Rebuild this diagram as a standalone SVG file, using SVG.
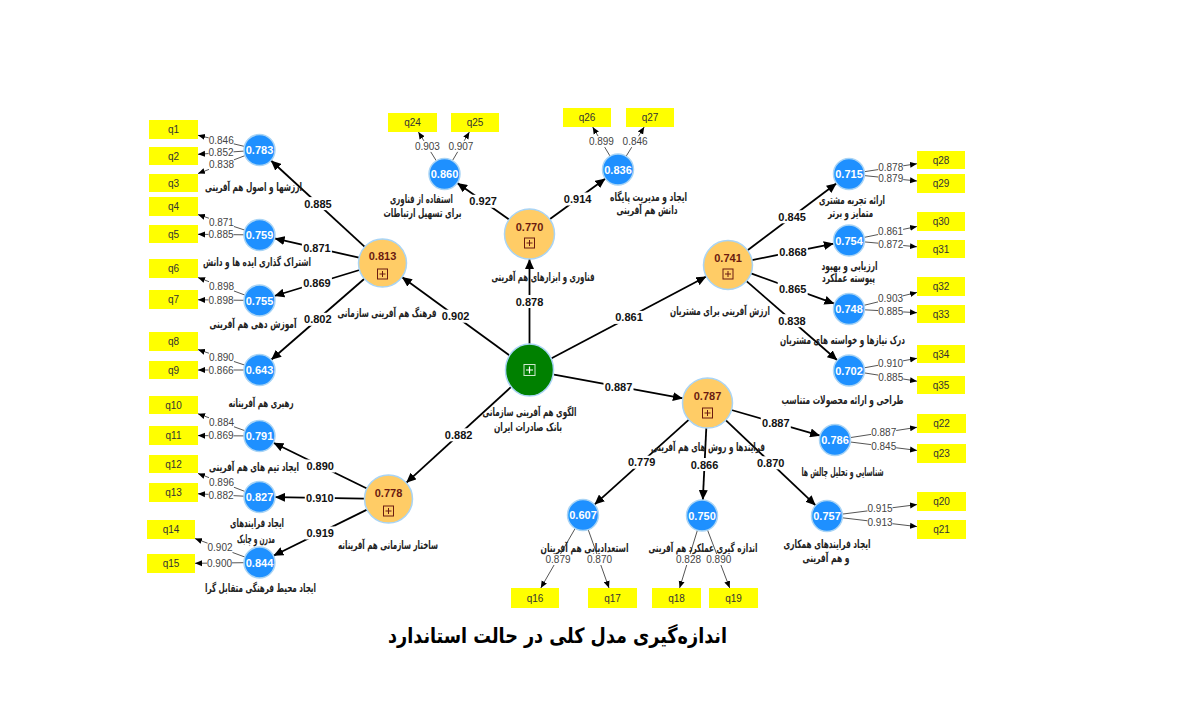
<svg xmlns="http://www.w3.org/2000/svg" width="1182" height="728" viewBox="0 0 1182 728">
<style>
.s{stroke:#000;stroke-width:1.8;fill:none;marker-end:url(#as)}
.o{stroke:#555;stroke-width:1;fill:none;marker-end:url(#ao)}
.lb{fill:#fff}
.ls{font:bold 11px 'Liberation Sans',Arial,sans-serif;fill:#111;text-anchor:middle;dominant-baseline:central}
.lo{font:10px 'Liberation Sans',Arial,sans-serif;fill:#444;text-anchor:middle;dominant-baseline:central}
.bl{fill:#1e90ff;stroke:#a9d4f5;stroke-width:1.5}
.or{fill:#ffcc66;stroke:#a9d4f5;stroke-width:1.5}
.gr{fill:#008000;stroke:#a9d4f5;stroke-width:1.5}
.bt{font:bold 11px 'Liberation Sans',Arial,sans-serif;fill:#fff;text-anchor:middle;dominant-baseline:central}
.ot{font:bold 11px 'Liberation Sans',Arial,sans-serif;fill:#6b1a10;text-anchor:middle;dominant-baseline:central}
.ic{fill:none;stroke:#6b1a10;stroke-width:1}
.q{fill:#ffff00}
.qt{font:10px 'Liberation Sans',Arial,sans-serif;fill:#333;text-anchor:middle;dominant-baseline:central}
.nm{font:bold 11.5px 'DejaVu Sans',sans-serif;fill:#222;text-anchor:middle;dominant-baseline:central;direction:rtl}
.tt{font:bold 21px 'DejaVu Sans',sans-serif;fill:#000;text-anchor:middle;dominant-baseline:central;direction:rtl}
</style>
<defs>
<marker id="as" markerUnits="userSpaceOnUse" markerWidth="11" markerHeight="9" refX="10" refY="4.5" orient="auto"><path d="M0,0L10,4.5L0,9z" fill="#000"/></marker>
<marker id="ao" markerUnits="userSpaceOnUse" markerWidth="8" markerHeight="7" refX="7" refY="3.5" orient="auto"><path d="M0,0.5L7,3.5L0,6.5z" fill="#000"/></marker>
</defs>
<rect width="1182" height="728" fill="#fff"/>

<g id="connectors">
<path class="s" d="M509.3,355.3L401.9,277.1"/>
<path class="s" d="M529.5,344L529.5,259"/>
<path class="s" d="M551.6,358.3L706.3,276.5"/>
<path class="s" d="M554.1,374.6L682.9,398.4"/>
<path class="s" d="M511.1,386.9L406.2,482.8"/>
<path class="s" d="M364.8,246.8L270.9,160.5"/>
<path class="s" d="M359.1,257.7L274.6,238.4"/>
<path class="s" d="M359.5,270L274.3,296"/>
<path class="s" d="M364.4,278.8L271.2,359.8"/>
<path class="s" d="M509.1,219.6L457.2,182.9"/>
<path class="s" d="M549.7,219.3L605.5,178.6"/>
<path class="s" d="M747.6,250.3L836.6,183.3"/>
<path class="s" d="M752,260.1L833.8,243.6"/>
<path class="s" d="M751,273.4L834.4,303.7"/>
<path class="s" d="M746.5,281.1L837.3,360.3"/>
<path class="s" d="M731.5,410L820.1,435.7"/>
<path class="s" d="M725.7,420.2L815.7,505.4"/>
<path class="s" d="M706.3,428L702.8,500"/>
<path class="s" d="M688.9,419.7L594.5,504.6"/>
<path class="s" d="M366.9,488.5L273.4,442.8"/>
<path class="s" d="M364.5,498.6L275,497.2"/>
<path class="s" d="M367,509.6L273.4,555.7"/>

<path class="o" d="M244.4,146.4L198,135.3"/>
<path class="o" d="M244,151.1L198,154.3"/>
<path class="o" d="M245,155.6L198,173.6"/>
<path class="o" d="M244.8,230.1L198,214.6"/>
<path class="o" d="M244,234.8L198,234.3"/>
<path class="o" d="M245,295.1L198,277.6"/>
<path class="o" d="M244,300.3L198,299.8"/>
<path class="o" d="M244.8,365.1L198,349.6"/>
<path class="o" d="M244,370L198,370"/>
<path class="o" d="M244.9,430.7L198,413.8"/>
<path class="o" d="M244,435.9L198,435.6"/>
<path class="o" d="M245,491.5L198,473.4"/>
<path class="o" d="M244,496.2L198,493.8"/>
<path class="o" d="M245,557.1L195,538.5"/>
<path class="o" d="M244,562.7L195,563.3"/>
<path class="o" d="M436.3,160.8L418.4,132"/>
<path class="o" d="M452.4,160.7L469.4,132"/>
<path class="o" d="M610.1,156.2L592.7,127"/>
<path class="o" d="M626.1,156.3L644.2,127"/>
<path class="o" d="M864.3,171.7L917,163.7"/>
<path class="o" d="M864.4,175.6L917,181"/>
<path class="o" d="M864.2,237.4L917,226.5"/>
<path class="o" d="M864.4,241.9L917,246.8"/>
<path class="o" d="M864.1,305.3L917,292.4"/>
<path class="o" d="M864.5,309.8L917,312.7"/>
<path class="o" d="M864.3,367.8L917,358.3"/>
<path class="o" d="M864.3,372.9L917,381.2"/>
<path class="o" d="M850.3,437.6L917,427.3"/>
<path class="o" d="M850.4,442L917,450.4"/>
<path class="o" d="M842.4,514.1L917,504.6"/>
<path class="o" d="M842.4,517.8L917,526.6"/>
<path class="o" d="M575.2,528.4L540.8,588"/>
<path class="o" d="M588.2,529.6L609,588"/>
<path class="o" d="M697.4,530.3L679.6,588"/>
<path class="o" d="M707.5,530L729.7,588"/>

<g transform="translate(455.6,316.2)"><rect class="lb" x="-15" y="-6.5" width="30" height="13"/><text class="ls">0.902</text></g>
<g transform="translate(529.5,301.5)"><rect class="lb" x="-15" y="-6.5" width="30" height="13"/><text class="ls">0.878</text></g>
<g transform="translate(629,317.4)"><rect class="lb" x="-15" y="-6.5" width="30" height="13"/><text class="ls">0.861</text></g>
<g transform="translate(618.5,386.5)"><rect class="lb" x="-15" y="-6.5" width="30" height="13"/><text class="ls">0.887</text></g>
<g transform="translate(458.6,434.8)"><rect class="lb" x="-15" y="-6.5" width="30" height="13"/><text class="ls">0.882</text></g>
<g transform="translate(317.9,203.6)"><rect class="lb" x="-15" y="-6.5" width="30" height="13"/><text class="ls">0.885</text></g>
<g transform="translate(316.9,248.1)"><rect class="lb" x="-15" y="-6.5" width="30" height="13"/><text class="ls">0.871</text></g>
<g transform="translate(316.9,283)"><rect class="lb" x="-15" y="-6.5" width="30" height="13"/><text class="ls">0.869</text></g>
<g transform="translate(317.8,319.3)"><rect class="lb" x="-15" y="-6.5" width="30" height="13"/><text class="ls">0.802</text></g>
<g transform="translate(483.1,201.3)"><rect class="lb" x="-15" y="-6.5" width="30" height="13"/><text class="ls">0.927</text></g>
<g transform="translate(577.6,199)"><rect class="lb" x="-15" y="-6.5" width="30" height="13"/><text class="ls">0.914</text></g>
<g transform="translate(792.1,216.8)"><rect class="lb" x="-15" y="-6.5" width="30" height="13"/><text class="ls">0.845</text></g>
<g transform="translate(792.9,251.9)"><rect class="lb" x="-15" y="-6.5" width="30" height="13"/><text class="ls">0.868</text></g>
<g transform="translate(792.7,288.5)"><rect class="lb" x="-15" y="-6.5" width="30" height="13"/><text class="ls">0.865</text></g>
<g transform="translate(791.9,320.7)"><rect class="lb" x="-15" y="-6.5" width="30" height="13"/><text class="ls">0.838</text></g>
<g transform="translate(775.8,422.8)"><rect class="lb" x="-15" y="-6.5" width="30" height="13"/><text class="ls">0.887</text></g>
<g transform="translate(770.7,462.8)"><rect class="lb" x="-15" y="-6.5" width="30" height="13"/><text class="ls">0.870</text></g>
<g transform="translate(704.5,464.5)"><rect class="lb" x="-15" y="-6.5" width="30" height="13"/><text class="ls">0.866</text></g>
<g transform="translate(641.7,462.2)"><rect class="lb" x="-15" y="-6.5" width="30" height="13"/><text class="ls">0.779</text></g>
<g transform="translate(320.2,466)"><rect class="lb" x="-15" y="-6.5" width="30" height="13"/><text class="ls">0.890</text></g>
<g transform="translate(319.8,497.9)"><rect class="lb" x="-15" y="-6.5" width="30" height="13"/><text class="ls">0.910</text></g>
<g transform="translate(320.2,533)"><rect class="lb" x="-15" y="-6.5" width="30" height="13"/><text class="ls">0.919</text></g>

<g transform="translate(221.2,140.9)"><rect class="lb" x="-12.5" y="-5.5" width="25" height="11"/><text class="lo">0.846</text></g>
<g transform="translate(221,152.7)"><rect class="lb" x="-12.5" y="-5.5" width="25" height="11"/><text class="lo">0.852</text></g>
<g transform="translate(221.5,164.6)"><rect class="lb" x="-12.5" y="-5.5" width="25" height="11"/><text class="lo">0.838</text></g>
<g transform="translate(221.4,222.4)"><rect class="lb" x="-12.5" y="-5.5" width="25" height="11"/><text class="lo">0.871</text></g>
<g transform="translate(221,234.6)"><rect class="lb" x="-12.5" y="-5.5" width="25" height="11"/><text class="lo">0.885</text></g>
<g transform="translate(221.5,286.4)"><rect class="lb" x="-12.5" y="-5.5" width="25" height="11"/><text class="lo">0.898</text></g>
<g transform="translate(221,300.1)"><rect class="lb" x="-12.5" y="-5.5" width="25" height="11"/><text class="lo">0.898</text></g>
<g transform="translate(221.4,357.4)"><rect class="lb" x="-12.5" y="-5.5" width="25" height="11"/><text class="lo">0.890</text></g>
<g transform="translate(221,370)"><rect class="lb" x="-12.5" y="-5.5" width="25" height="11"/><text class="lo">0.866</text></g>
<g transform="translate(221.5,422.3)"><rect class="lb" x="-12.5" y="-5.5" width="25" height="11"/><text class="lo">0.884</text></g>
<g transform="translate(221,435.8)"><rect class="lb" x="-12.5" y="-5.5" width="25" height="11"/><text class="lo">0.869</text></g>
<g transform="translate(221.5,482.4)"><rect class="lb" x="-12.5" y="-5.5" width="25" height="11"/><text class="lo">0.896</text></g>
<g transform="translate(221,495)"><rect class="lb" x="-12.5" y="-5.5" width="25" height="11"/><text class="lo">0.882</text></g>
<g transform="translate(220,547.8)"><rect class="lb" x="-12.5" y="-5.5" width="25" height="11"/><text class="lo">0.902</text></g>
<g transform="translate(219.5,563)"><rect class="lb" x="-12.5" y="-5.5" width="25" height="11"/><text class="lo">0.900</text></g>
<g transform="translate(427.4,146.4)"><rect class="lb" x="-12.5" y="-5.5" width="25" height="11"/><text class="lo">0.903</text></g>
<g transform="translate(460.9,146.3)"><rect class="lb" x="-12.5" y="-5.5" width="25" height="11"/><text class="lo">0.907</text></g>
<g transform="translate(601.4,141.6)"><rect class="lb" x="-12.5" y="-5.5" width="25" height="11"/><text class="lo">0.899</text></g>
<g transform="translate(635.1,141.7)"><rect class="lb" x="-12.5" y="-5.5" width="25" height="11"/><text class="lo">0.846</text></g>
<g transform="translate(890.7,167.7)"><rect class="lb" x="-12.5" y="-5.5" width="25" height="11"/><text class="lo">0.878</text></g>
<g transform="translate(890.7,178.3)"><rect class="lb" x="-12.5" y="-5.5" width="25" height="11"/><text class="lo">0.879</text></g>
<g transform="translate(890.6,231.9)"><rect class="lb" x="-12.5" y="-5.5" width="25" height="11"/><text class="lo">0.861</text></g>
<g transform="translate(890.7,244.4)"><rect class="lb" x="-12.5" y="-5.5" width="25" height="11"/><text class="lo">0.872</text></g>
<g transform="translate(890.5,298.8)"><rect class="lb" x="-12.5" y="-5.5" width="25" height="11"/><text class="lo">0.903</text></g>
<g transform="translate(890.7,311.3)"><rect class="lb" x="-12.5" y="-5.5" width="25" height="11"/><text class="lo">0.885</text></g>
<g transform="translate(890.6,363)"><rect class="lb" x="-12.5" y="-5.5" width="25" height="11"/><text class="lo">0.910</text></g>
<g transform="translate(890.7,377.1)"><rect class="lb" x="-12.5" y="-5.5" width="25" height="11"/><text class="lo">0.885</text></g>
<g transform="translate(883.7,432.5)"><rect class="lb" x="-12.5" y="-5.5" width="25" height="11"/><text class="lo">0.887</text></g>
<g transform="translate(883.7,446.2)"><rect class="lb" x="-12.5" y="-5.5" width="25" height="11"/><text class="lo">0.845</text></g>
<g transform="translate(880,508.8)"><rect class="lb" x="-12.5" y="-5.5" width="25" height="11"/><text class="lo">0.915</text></g>
<g transform="translate(880,522.6)"><rect class="lb" x="-12.5" y="-5.5" width="25" height="11"/><text class="lo">0.913</text></g>
<g transform="translate(558,559.5)"><rect class="lb" x="-12.5" y="-5.5" width="25" height="11"/><text class="lo">0.879</text></g>
<g transform="translate(599.5,559.5)"><rect class="lb" x="-12.5" y="-5.5" width="25" height="11"/><text class="lo">0.870</text></g>
<g transform="translate(688.5,559.5)"><rect class="lb" x="-12.5" y="-5.5" width="25" height="11"/><text class="lo">0.828</text></g>
<g transform="translate(718.8,559.5)"><rect class="lb" x="-12.5" y="-5.5" width="25" height="11"/><text class="lo">0.890</text></g>
</g>

<g id="nodes">
<g id="n-main"><ellipse class="gr" cx="529.5" cy="370" rx="24" ry="26"/><rect x="524" y="364.5" width="11" height="11" fill="none" stroke="#cfe8cf" stroke-width="1"/><path d="M529.5,366.5V373.5M526,370H533" stroke="#fff" stroke-width="1.2"/><text class="nm" x="529.5" y="412" textLength="94" lengthAdjust="spacingAndGlyphs">الگوی هم آفرینی سازمانی</text><text class="nm" x="528" y="427" textLength="68" lengthAdjust="spacingAndGlyphs">بانک صادرات ایران</text></g>

<g id="n-o1"><circle class="or" cx="382.5" cy="263" r="24"/><text class="ot" x="382.5" y="256">0.813</text><rect class="ic" x="377.5" y="269" width="10" height="10"/><path class="ic" d="M382.5,271V277M379.5,274H385.5"/><text class="nm" x="387" y="313" textLength="99" lengthAdjust="spacingAndGlyphs">فرهنگ هم آفرینی سازمانی</text></g>
<g id="n-o2"><circle class="or" cx="529.5" cy="234" r="25"/><text class="ot" x="529.5" y="227">0.770</text><rect class="ic" x="524.5" y="238" width="10" height="10"/><path class="ic" d="M529.5,240V246M526.5,243H532.5"/><text class="nm" x="543" y="277" textLength="103" lengthAdjust="spacingAndGlyphs">فناوری و ابزارهای هم آفرینی</text></g>
<g id="n-o3"><circle class="or" cx="728" cy="265" r="24.5"/><text class="ot" x="728" y="258">0.741</text><rect class="ic" x="723" y="269" width="10" height="10"/><path class="ic" d="M728,271V277M725,274H731"/><text class="nm" x="720" y="311" textLength="100" lengthAdjust="spacingAndGlyphs">ارزش آفرینی برای مشتریان</text></g>
<g id="n-o4"><circle class="or" cx="707.5" cy="403" r="25"/><text class="ot" x="707.5" y="396">0.787</text><rect class="ic" x="702.5" y="408" width="10" height="10"/><path class="ic" d="M707.5,410V416M704.5,413H710.5"/><text class="nm" x="708" y="447" textLength="114" lengthAdjust="spacingAndGlyphs">فرایندها و روش های هم آفرینی</text></g>
<g id="n-o5"><circle class="or" cx="388.5" cy="499" r="24"/><text class="ot" x="388.5" y="493">0.778</text><rect class="ic" x="383.5" y="506" width="10" height="10"/><path class="ic" d="M388.5,508V514M385.5,511H391.5"/><text class="nm" x="388" y="545" textLength="100" lengthAdjust="spacingAndGlyphs">ساختار سازمانی هم آفرینانه</text></g>

<g id="n-b1"><circle class="bl" cx="259.5" cy="150" r="15.5"/><text class="bt" x="259.5" y="150">0.783</text><text class="nm" x="253.5" y="187" textLength="97" lengthAdjust="spacingAndGlyphs">ارزشها و اصول هم آفرینی</text></g>
<g id="n-b2"><circle class="bl" cx="259.5" cy="235" r="15.5"/><text class="bt" x="259.5" y="235">0.759</text><text class="nm" x="257" y="262" textLength="108" lengthAdjust="spacingAndGlyphs">اشتراک گذاری ایده ها و دانش</text></g>
<g id="n-b3"><circle class="bl" cx="259.5" cy="300.5" r="15.5"/><text class="bt" x="259.5" y="300.5">0.755</text><text class="nm" x="253" y="324" textLength="87" lengthAdjust="spacingAndGlyphs">آموزش دهی هم آفرینی</text></g>
<g id="n-b4"><circle class="bl" cx="259.5" cy="370" r="15.5"/><text class="bt" x="259.5" y="370">0.643</text><text class="nm" x="261" y="403" textLength="65" lengthAdjust="spacingAndGlyphs">رهبری هم آفرینانه</text></g>
<g id="n-b5"><circle class="bl" cx="259.5" cy="436" r="15.5"/><text class="bt" x="259.5" y="436">0.791</text><text class="nm" x="254" y="467" textLength="90" lengthAdjust="spacingAndGlyphs">ایجاد تیم های هم آفرینی</text></g>
<g id="n-b6"><circle class="bl" cx="259.5" cy="497" r="15.5"/><text class="bt" x="259.5" y="497">0.827</text><text class="nm" x="257" y="523" textLength="54" lengthAdjust="spacingAndGlyphs">ایجاد فرایندهای</text><text class="nm" x="256" y="539" textLength="38" lengthAdjust="spacingAndGlyphs">مدرن و چابک</text></g>
<g id="n-b7"><circle class="bl" cx="259.5" cy="562.5" r="15.5"/><text class="bt" x="259.5" y="562.5">0.844</text><text class="nm" x="260.5" y="588" textLength="111" lengthAdjust="spacingAndGlyphs">ایجاد محیط فرهنگی متقابل گرا</text></g>
<g id="n-b8"><circle class="bl" cx="444.5" cy="174" r="15.5"/><text class="bt" x="444.5" y="174">0.860</text><text class="nm" x="421.5" y="199" textLength="63" lengthAdjust="spacingAndGlyphs">استفاده از فناوری</text><text class="nm" x="422.5" y="213" textLength="78" lengthAdjust="spacingAndGlyphs">برای تسهیل ارتباطات</text></g>
<g id="n-b9"><circle class="bl" cx="618" cy="169.5" r="15.5"/><text class="bt" x="618" y="169.5">0.836</text><text class="nm" x="648.5" y="197" textLength="77" lengthAdjust="spacingAndGlyphs">ایجاد و مدیریت پایگاه</text><text class="nm" x="647" y="210" textLength="61" lengthAdjust="spacingAndGlyphs">دانش هم آفرینی</text></g>
<g id="n-b10"><circle class="bl" cx="849" cy="174" r="15.5"/><text class="bt" x="849" y="174">0.715</text><text class="nm" x="852" y="200" textLength="66" lengthAdjust="spacingAndGlyphs">ارائه تجربه مشتری</text><text class="nm" x="850.5" y="213" textLength="45" lengthAdjust="spacingAndGlyphs">متمایز و برتر</text></g>
<g id="n-b11"><circle class="bl" cx="849" cy="240.5" r="15.5"/><text class="bt" x="849" y="240.5">0.754</text><text class="nm" x="849.5" y="266" textLength="56" lengthAdjust="spacingAndGlyphs">ارزیابی و بهبود</text><text class="nm" x="848.5" y="278" textLength="53" lengthAdjust="spacingAndGlyphs">پیوسته عملکرد</text></g>
<g id="n-b12"><circle class="bl" cx="849" cy="309" r="15.5"/><text class="bt" x="849" y="309">0.748</text><text class="nm" x="842.5" y="340" textLength="125" lengthAdjust="spacingAndGlyphs">درک نیازها و خواسته های مشتریان</text></g>
<g id="n-b13"><circle class="bl" cx="849" cy="370.5" r="15.5"/><text class="bt" x="849" y="370.5">0.702</text><text class="nm" x="842.5" y="400" textLength="122" lengthAdjust="spacingAndGlyphs">طراحی و ارائه محصولات متناسب</text></g>
<g id="n-b14"><circle class="bl" cx="835" cy="440" r="15.5"/><text class="bt" x="835" y="440">0.786</text><text class="nm" x="842.5" y="472" textLength="82" lengthAdjust="spacingAndGlyphs">شناسایی و تحلیل چالش ها</text></g>
<g id="n-b15"><circle class="bl" cx="827" cy="516" r="15.5"/><text class="bt" x="827" y="516">0.757</text><text class="nm" x="827" y="544" textLength="87" lengthAdjust="spacingAndGlyphs">ایجاد فرایندهای همکاری</text><text class="nm" x="826" y="558" textLength="47" lengthAdjust="spacingAndGlyphs">و هم آفرینی</text></g>
<g id="n-b16"><circle class="bl" cx="702" cy="515.5" r="15.5"/><text class="bt" x="702" y="515.5">0.750</text><text class="nm" x="703" y="548" textLength="109" lengthAdjust="spacingAndGlyphs">اندازه گیری عملکرد هم آفرینی</text></g>
<g id="n-b17"><circle class="bl" cx="583" cy="515" r="15.5"/><text class="bt" x="583" y="515">0.607</text><text class="nm" x="584.5" y="548" textLength="88" lengthAdjust="spacingAndGlyphs">استعدادیابی هم آفرینان</text></g>

<g id="q1"><rect class="q" x="149" y="120" width="49" height="19"/><text class="qt" x="173.5" y="129.5">q1</text></g>
<g id="q2"><rect class="q" x="149" y="147" width="49" height="18"/><text class="qt" x="173.5" y="156">q2</text></g>
<g id="q3"><rect class="q" x="149" y="174" width="49" height="18"/><text class="qt" x="173.5" y="183">q3</text></g>
<g id="q4"><rect class="q" x="149" y="197" width="49" height="19"/><text class="qt" x="173.5" y="206.5">q4</text></g>
<g id="q5"><rect class="q" x="149" y="225" width="49" height="18"/><text class="qt" x="173.5" y="234">q5</text></g>
<g id="q6"><rect class="q" x="149" y="259" width="49" height="19"/><text class="qt" x="173.5" y="268.5">q6</text></g>
<g id="q7"><rect class="q" x="149" y="290" width="49" height="19"/><text class="qt" x="173.5" y="299.5">q7</text></g>
<g id="q8"><rect class="q" x="149" y="332" width="49" height="19"/><text class="qt" x="173.5" y="341.5">q8</text></g>
<g id="q9"><rect class="q" x="149" y="361" width="49" height="18"/><text class="qt" x="173.5" y="370">q9</text></g>
<g id="q10"><rect class="q" x="149" y="396" width="49" height="18"/><text class="qt" x="173.5" y="405">q10</text></g>
<g id="q11"><rect class="q" x="149" y="426" width="49" height="19"/><text class="qt" x="173.5" y="435.5">q11</text></g>
<g id="q12"><rect class="q" x="149" y="455" width="49" height="18"/><text class="qt" x="173.5" y="464">q12</text></g>
<g id="q13"><rect class="q" x="149" y="483" width="49" height="19"/><text class="qt" x="173.5" y="492.5">q13</text></g>
<g id="q14"><rect class="q" x="147" y="520" width="48" height="19"/><text class="qt" x="171" y="529.5">q14</text></g>
<g id="q15"><rect class="q" x="147" y="554" width="48" height="19"/><text class="qt" x="171" y="563.5">q15</text></g>
<g id="q24"><rect class="q" x="388" y="113" width="49" height="19"/><text class="qt" x="412.5" y="122.5">q24</text></g>
<g id="q25"><rect class="q" x="451" y="113" width="48" height="19"/><text class="qt" x="475" y="122.5">q25</text></g>
<g id="q26"><rect class="q" x="563" y="108" width="48" height="19"/><text class="qt" x="587" y="117.5">q26</text></g>
<g id="q27"><rect class="q" x="626" y="108" width="48" height="19"/><text class="qt" x="650" y="117.5">q27</text></g>
<g id="q28"><rect class="q" x="917" y="151" width="48" height="18"/><text class="qt" x="941" y="160">q28</text></g>
<g id="q29"><rect class="q" x="917" y="174" width="48" height="19"/><text class="qt" x="941" y="183.5">q29</text></g>
<g id="q30"><rect class="q" x="917" y="212" width="48" height="19"/><text class="qt" x="941" y="221.5">q30</text></g>
<g id="q31"><rect class="q" x="917" y="240" width="48" height="18"/><text class="qt" x="941" y="249">q31</text></g>
<g id="q32"><rect class="q" x="917" y="277" width="48" height="19"/><text class="qt" x="941" y="286.5">q32</text></g>
<g id="q33"><rect class="q" x="917" y="305" width="48" height="18"/><text class="qt" x="941" y="314">q33</text></g>
<g id="q34"><rect class="q" x="917" y="345" width="48" height="18"/><text class="qt" x="941" y="354">q34</text></g>
<g id="q35"><rect class="q" x="917" y="376" width="48" height="18"/><text class="qt" x="941" y="385">q35</text></g>
<g id="q22"><rect class="q" x="917" y="414" width="49" height="19"/><text class="qt" x="941.5" y="423.5">q22</text></g>
<g id="q23"><rect class="q" x="917" y="444" width="49" height="19"/><text class="qt" x="941.5" y="453.5">q23</text></g>
<g id="q20"><rect class="q" x="917" y="492" width="49" height="19"/><text class="qt" x="941.5" y="501.5">q20</text></g>
<g id="q21"><rect class="q" x="917" y="520" width="49" height="19"/><text class="qt" x="941.5" y="529.5">q21</text></g>
<g id="q16"><rect class="q" x="511" y="588" width="48" height="20"/><text class="qt" x="535" y="598">q16</text></g>
<g id="q17"><rect class="q" x="588" y="588" width="49" height="20"/><text class="qt" x="612.5" y="598">q17</text></g>
<g id="q18"><rect class="q" x="652" y="588" width="49" height="20"/><text class="qt" x="676.5" y="598">q18</text></g>
<g id="q19"><rect class="q" x="709" y="588" width="49" height="20"/><text class="qt" x="733.5" y="598">q19</text></g>
</g>

<text class="tt" x="557.5" y="636" textLength="339" lengthAdjust="spacingAndGlyphs">اندازه‌گیری مدل کلی در حالت استاندارد</text>
</svg>
